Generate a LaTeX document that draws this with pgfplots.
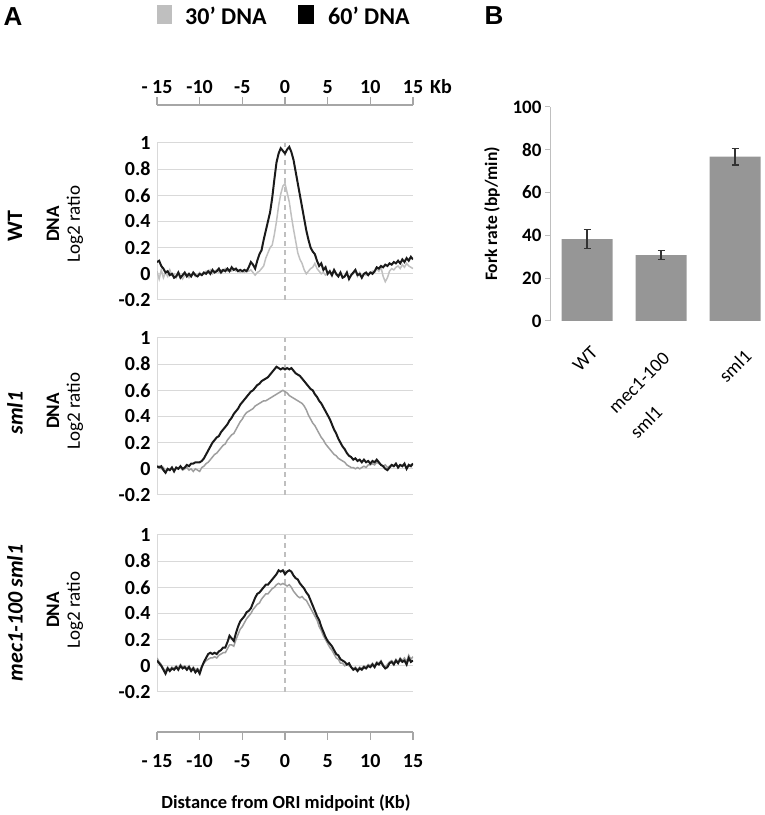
\documentclass[border=0pt]{standalone}
\usepackage{pgfplots}
\pgfplotsset{compat=1.18}
\usepackage{pgfplotstable}
\usepackage{fontspec}
\setmainfont{Carlito}
\newfontfamily\arialf{Liberation Sans}
\definecolor{gridc}{HTML}{D9D9D9}
\definecolor{axc}{HTML}{A6A6A6}
\definecolor{dashc}{HTML}{BFBFBF}
\definecolor{wtgray}{HTML}{C0C0C0}
\definecolor{mgray}{HTML}{9E9E9E}
\definecolor{dline}{HTML}{1A1A1A}
\definecolor{barc}{HTML}{969696}
\definecolor{legg}{HTML}{BFBFBF}
\definecolor{errc}{HTML}{333333}
\newcommand{\fs}[1]{\fontsize{#1bp}{#1bp}\selectfont}

\pgfplotstableread{
x wtb wtg smb smg mcb mcg
-15 0.09 0.02 0.02 0.01 0.04 0.06
-14.75 0.10 -0.04 0.01 0.02 0.02 0.03
-14.5 0.06 0.03 0.02 0.00 0.00 0.01
-14.25 0.04 -0.03 -0.01 0.01 -0.03 -0.02
-14 0.01 0.01 -0.03 -0.02 -0.06 -0.04
-13.75 0.02 -0.02 0.00 0.00 -0.02 -0.01
-13.5 -0.01 0.03 -0.01 -0.01 -0.04 -0.03
-13.25 0.00 -0.01 0.01 0.01 -0.02 -0.01
-13 -0.03 0.00 -0.02 -0.01 -0.03 -0.02
-12.75 -0.02 -0.03 0.01 0.01 -0.01 0.00
-12.5 0.01 0.01 0.00 0.00 -0.03 -0.02
-12.25 -0.03 -0.02 0.02 0.01 0.00 0.01
-12 -0.01 -0.04 0.00 -0.01 -0.02 -0.01
-11.75 0.01 -0.01 0.01 0.00 -0.01 0.00
-11.5 -0.02 0.00 0.03 0.01 -0.03 -0.02
-11.25 0.00 -0.03 0.02 -0.01 -0.01 0.00
-11 -0.02 -0.01 0.04 0.00 -0.04 -0.03
-10.75 0.01 0.00 0.04 -0.02 -0.02 -0.01
-10.5 -0.01 -0.02 0.05 0.00 -0.05 -0.03
-10.25 -0.02 -0.01 0.05 -0.01 -0.03 -0.02
-10 0.00 0.01 0.05 -0.02 -0.06 -0.04
-9.75 -0.01 -0.01 0.06 0.01 -0.01 0.00
-9.5 0.01 0.00 0.08 0.02 0.03 0.02
-9.25 0.00 0.02 0.11 0.04 0.06 0.04
-9 0.02 0.01 0.14 0.05 0.09 0.05
-8.75 0.00 0.03 0.17 0.07 0.10 0.06
-8.5 0.03 0.00 0.20 0.09 0.09 0.06
-8.25 0.01 0.02 0.22 0.11 0.10 0.07
-8 0.02 0.03 0.24 0.12 0.09 0.06
-7.75 0.04 0.01 0.25 0.14 0.11 0.08
-7.5 0.01 0.03 0.28 0.16 0.12 0.09
-7.25 0.03 0.02 0.30 0.18 0.14 0.10
-7 0.02 0.04 0.32 0.19 0.14 0.10
-6.75 0.04 0.02 0.34 0.22 0.18 0.13
-6.5 0.02 0.03 0.37 0.24 0.23 0.16
-6.25 0.05 0.02 0.39 0.26 0.21 0.16
-6 0.03 0.04 0.42 0.27 0.19 0.15
-5.75 0.04 0.02 0.44 0.30 0.25 0.20
-5.5 0.02 0.03 0.46 0.33 0.30 0.24
-5.25 0.03 0.01 0.49 0.36 0.34 0.28
-5 0.02 0.02 0.51 0.38 0.36 0.30
-4.75 0.03 0.01 0.53 0.41 0.38 0.33
-4.5 0.02 0.03 0.55 0.43 0.41 0.36
-4.25 0.05 0.02 0.57 0.44 0.42 0.38
-4 0.09 0.03 0.59 0.45 0.44 0.40
-3.75 0.07 0.01 0.60 0.46 0.48 0.43
-3.5 0.04 -0.01 0.62 0.48 0.52 0.45
-3.25 0.10 0.01 0.64 0.49 0.55 0.47
-3 0.15 0.02 0.65 0.50 0.56 0.48
-2.75 0.18 0.04 0.67 0.51 0.58 0.51
-2.5 0.26 0.06 0.68 0.52 0.60 0.53
-2.25 0.33 0.12 0.69 0.52 0.62 0.55
-2 0.40 0.16 0.70 0.53 0.62 0.55
-1.75 0.47 0.20 0.72 0.54 0.64 0.57
-1.5 0.58 0.22 0.74 0.55 0.66 0.59
-1.25 0.72 0.30 0.76 0.56 0.68 0.60
-1 0.85 0.40 0.78 0.57 0.70 0.62
-0.75 0.92 0.52 0.77 0.58 0.73 0.63
-0.5 0.96 0.61 0.76 0.59 0.72 0.62
-0.25 0.94 0.67 0.77 0.60 0.73 0.63
0 0.92 0.69 0.76 0.59 0.70 0.62
0.25 0.95 0.62 0.77 0.58 0.72 0.61
0.5 0.97 0.55 0.76 0.56 0.73 0.62
0.75 0.93 0.44 0.77 0.55 0.72 0.60
1 0.87 0.34 0.75 0.54 0.69 0.57
1.25 0.78 0.25 0.73 0.53 0.67 0.55
1.5 0.69 0.16 0.72 0.52 0.66 0.53
1.75 0.60 0.11 0.71 0.51 0.63 0.52
2 0.51 0.08 0.69 0.50 0.61 0.53
2.25 0.42 0.03 0.67 0.48 0.59 0.51
2.5 0.33 0.00 0.65 0.45 0.56 0.50
2.75 0.26 0.02 0.63 0.41 0.54 0.47
3 0.20 0.04 0.61 0.38 0.50 0.44
3.25 0.17 0.05 0.60 0.35 0.46 0.41
3.5 0.15 0.08 0.57 0.33 0.42 0.38
3.75 0.10 0.04 0.55 0.30 0.38 0.35
4 0.06 0.02 0.52 0.27 0.35 0.30
4.25 0.08 0.00 0.50 0.24 0.30 0.27
4.5 0.03 0.01 0.47 0.22 0.26 0.23
4.75 0.05 -0.01 0.44 0.19 0.22 0.20
5 0.00 0.00 0.41 0.17 0.19 0.17
5.25 0.02 0.01 0.38 0.15 0.17 0.14
5.5 -0.01 -0.02 0.34 0.13 0.15 0.12
5.75 0.03 0.02 0.30 0.11 0.12 0.09
6 0.00 -0.01 0.27 0.10 0.09 0.06
6.25 -0.02 -0.02 0.23 0.08 0.08 0.05
6.5 0.01 0.00 0.20 0.07 0.05 0.02
6.75 -0.03 -0.03 0.17 0.06 0.04 0.02
7 -0.02 -0.01 0.15 0.05 0.03 0.00
7.25 0.01 0.00 0.12 0.03 0.01 0.01
7.5 -0.04 -0.03 0.10 0.02 0.02 0.00
7.75 -0.01 -0.01 0.09 0.01 -0.01 -0.01
8 0.01 0.00 0.07 0.01 -0.03 -0.02
8.25 0.03 0.02 0.08 0.00 -0.02 -0.01
8.5 -0.01 -0.02 0.06 0.01 -0.04 -0.03
8.75 0.00 0.01 0.07 0.00 -0.02 -0.01
9 -0.03 -0.02 0.05 0.01 -0.03 -0.02
9.25 0.00 0.00 0.07 0.02 -0.01 0.00
9.5 0.01 -0.01 0.05 0.01 -0.02 -0.01
9.75 -0.01 0.00 0.06 0.03 0.00 0.01
10 0.01 0.01 0.04 0.03 -0.01 0.00
10.25 0.00 0.02 0.06 0.04 0.01 0.02
10.5 0.02 0.01 0.05 0.03 -0.01 0.00
10.75 0.05 0.04 0.07 0.05 0.02 0.03
11 0.04 0.02 0.05 0.04 0.01 0.02
11.25 0.06 0.05 0.03 0.03 0.03 0.04
11.5 0.05 -0.02 0.02 0.02 0.00 0.01
11.75 0.07 -0.06 0.00 0.03 -0.02 -0.01
12 0.06 -0.03 -0.01 0.01 -0.01 0.01
12.25 0.08 0.02 0.01 0.02 0.02 0.03
12.5 0.07 0.04 0.03 0.03 0.03 0.04
12.75 0.09 0.03 0.02 0.02 0.01 0.02
13 0.08 0.05 0.04 0.03 0.04 0.05
13.25 0.10 0.06 0.01 0.02 0.02 0.03
13.5 0.08 0.04 0.03 0.03 0.05 0.06
13.75 0.11 0.07 0.02 0.02 0.03 0.04
14 0.09 0.05 0.04 0.03 0.04 0.06
14.25 0.12 0.08 0.00 0.01 0.01 0.03
14.5 0.10 0.06 0.03 0.02 0.06 0.08
14.75 0.13 0.05 0.02 0.03 0.03 0.05
15 0.11 0.04 0.04 0.04 0.04 0.07
}\prof

\pgfplotsset{
 prof/.style={
  scale only axis, width=256bp, height=157bp, anchor=north west,
  xmin=-15, xmax=15, ymin=-0.2, ymax=1,
  axis x line=none, axis y line*=left,
  axis line style={gridc, line width=1bp},
  ytick={-0.2,0,0.2,0.4,0.6,0.8,1},
  yticklabels={-0.2,0,0.2,0.4,0.6,0.8,1},
  major tick length=0pt,
  ymajorgrids, grid style={gridc, line width=1bp},
  yticklabel style={font=\bfseries\fs{20}, xshift=-3bp},
 },
 xax/.style={
  scale only axis, width=256bp, height=1bp,
  xmin=-15, xmax=15, ymin=0, ymax=1,
  axis y line=none,
  xtick={-15,-10,-5,0,5,10,15},
  xticklabels={- 15,-10,-5,0,5,10,15},
  tick align=outside, major tick length=8bp,
  axis line style={axc, line width=1.5bp},
  tick style={axc, line width=1.5bp},
  xticklabel style={font=\bfseries\fs{20}},
 },
 dashv/.style={dashc, line width=1.5bp, dash pattern=on 5bp off 4bp},
 blk/.style={dline, line width=2bp},
}

\begin{document}
\begin{tikzpicture}[x=1bp,y=1bp]
\useasboundingbox (0,0) rectangle (765,815);

% panel labels
\node[font=\arialf\bfseries\fs{26}] at (13,798) {A};
\node[font=\arialf\bfseries\fs{26}] at (494,799) {B};

% legend
\fill[legg] (157,791) rectangle (172,810);
\fill[black] (298,791) rectangle (314,810);
\node[anchor=base west, inner sep=0pt, font=\bfseries\fs{24}] at (185,790) {30’ DNA};
\node[anchor=base west, inner sep=0pt, font=\bfseries\fs{24}] at (328,790) {60’ DNA};

% top x axis
\begin{axis}[xax, at={(157bp,709bp)}, anchor=south west, axis x line*=top]
\end{axis}
\node[font=\bfseries\fs{20}] at (441,728) {Kb};

% WT
\begin{axis}[prof, at={(157bp,672bp)}]
\addplot[dashv] coordinates {(0,-0.2) (0,1)};
\addplot[wtgray, line width=1.5bp] table[x=x,y=wtg]{\prof};
\addplot[blk] table[x=x,y=wtb]{\prof};
\end{axis}

% sml1
\begin{axis}[prof, at={(157bp,477bp)}]
\addplot[dashv] coordinates {(0,-0.2) (0,1)};
\addplot[mgray, line width=1.5bp] table[x=x,y=smg]{\prof};
\addplot[blk] table[x=x,y=smb]{\prof};
\end{axis}

% mec1-100 sml1
\begin{axis}[prof, at={(157bp,280bp)}]
\addplot[dashv] coordinates {(0,-0.2) (0,1)};
\addplot[mgray, line width=1.5bp] table[x=x,y=mcg]{\prof};
\addplot[blk] table[x=x,y=mcb]{\prof};
\end{axis}

% bottom x axis
\begin{axis}[xax, at={(157bp,84bp)}, anchor=north west, axis x line*=bottom,
  xticklabel style={yshift=-11bp}]
\end{axis}
\node[font=\bfseries\fs{18.5}] at (286,12) {Distance from ORI midpoint (Kb)};

% row labels
\node[rotate=90, font=\bfseries\fs{22}] at (15,589) {WT};
\node[rotate=90, font=\bfseries\itshape\fs{22}] at (15,402) {sml1};
\node[rotate=90, font=\bfseries\itshape\fs{22}] at (15,202) {mec1-100 sml1};
\foreach \yy in {591,404,205}{
  \node[rotate=90, font=\bfseries\fs{19}] at (53,\yy) {DNA};
  \node[rotate=90, font=\fs{19}] at (75,\yy) {Log2 ratio};
}

% panel B
\begin{axis}[scale only axis, width=214.6bp, height=214bp, at={(550bp,494bp)}, anchor=south west,
 xmin=-0.5, xmax=2.4, ymin=0, ymax=100,
 axis x line=none, axis y line*=left,
 axis line style={dashc, line width=1bp},
 ytick={0,20,40,60,80,100}, yticklabels={0,20,40,60,80,100},
 tick align=outside, major tick length=5bp, tick style={dashc, line width=1bp},
 yticklabel style={font=\bfseries\fs{19}},
]
\addplot[ybar, bar width=51bp, fill=barc, draw=none,
  error bars/.cd, y dir=both, y explicit,
  error bar style={errc, line width=1.3bp},
  error mark options={rotate=90, mark size=3.5bp, errc, line width=1.3bp}]
  coordinates {(0,38.3) +- (0,4.5) (1,30.8) +- (0,2.0) (2,76.8) +- (0,3.9)};
\end{axis}
\node[rotate=90, font=\bfseries\fs{17.5}] at (492,601) {Fork rate (bp/min)};
\node[rotate=45, font=\fs{19}] at (585,456) {WT};
\node[rotate=45, font=\fs{19}] at (639,432) {mec1-100};
\node[rotate=45, font=\fs{19}] at (646,393) {sml1};
\node[rotate=45, font=\fs{19}] at (735,449) {sml1};
\end{tikzpicture}
\end{document}
